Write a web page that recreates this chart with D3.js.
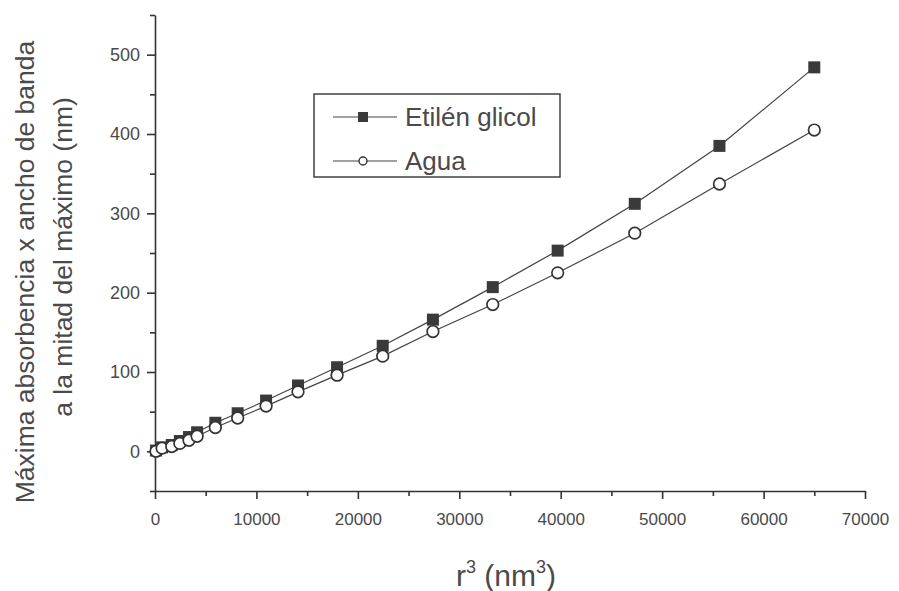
<!DOCTYPE html>
<html lang="es">
<head>
<meta charset="utf-8">
<script src="https://d3js.org/d3.v7.min.js"></script>
<style>
  body { margin: 0; background: #fff; }
  svg text { font-family: "Liberation Sans", Arial, sans-serif; fill: #4a4a4a; }
</style>
</head>
<body>
<div id="chart"></div>
<script>
// r^3 values (nm^3)
const r3 = [100, 700, 1650, 2450, 3350, 4150, 5950, 8150, 10950, 14100, 17950, 22450, 27400, 33300, 39700, 47300, 55650, 65000];
const etilenGlicol = [1, 5, 8, 13, 18, 24, 36, 48, 64, 83, 106, 133, 166, 207, 253, 312, 385, 484];
const agua = [0, 4, 6, 10, 14, 19, 30, 42, 57, 75, 96, 120, 151, 185, 225, 275, 337, 405];
const xTicks = [0, 10000, 20000, 30000, 40000, 50000, 60000, 70000];
const yTicks = [0, 100, 200, 300, 400, 500];
const seriesNames = ["Etilén glicol", "Agua"];

const W = 899, H = 591;
const svg = d3.select("#chart").append("svg")
  .attr("width", W).attr("height", H);

// scales
const x = d3.scaleLinear().domain([0, 70000]).range([155, 865]);
const y = d3.scaleLinear().domain([-50, 550]).range([491, 15]);
const ink = "#333";

// x axis: minor ticks then major with labels
svg.append("g")
  .attr("transform", "translate(0," + y(-50) + ")")
  .call(d3.axisBottom(x).tickValues(d3.range(5000, 70000, 10000)).tickSize(5).tickFormat(""))
  .call(g => g.select(".domain").remove());
const xa = svg.append("g")
  .attr("transform", "translate(0," + y(-50) + ")")
  .call(d3.axisBottom(x).tickValues(xTicks).tickSize(8).tickSizeOuter(0).tickPadding(14).tickFormat(d3.format("d")));
xa.selectAll("text").style("font-size", "17px");

// y axis
svg.append("g")
  .attr("transform", "translate(" + x(0) + ",0)")
  .call(d3.axisLeft(y).tickValues([-50, 50, 150, 250, 350, 450, 550]).tickSize(5).tickFormat(""))
  .call(g => g.select(".domain").remove());
const ya = svg.append("g")
  .attr("transform", "translate(" + x(0) + ",0)")
  .call(d3.axisLeft(y).tickValues(yTicks).tickSize(8).tickSizeOuter(0).tickPadding(7));
ya.selectAll("text").style("font-size", "18px");

svg.selectAll(".domain, .tick line").attr("stroke", ink).attr("stroke-width", 1.6);

// data lines
const pts = s => r3.map((v, i) => [x(v), y(s[i])]);
const line = d3.line();
[etilenGlicol, agua].forEach(s => {
  svg.append("path").attr("d", line(pts(s)))
    .attr("fill", "none").attr("stroke", "#444").attr("stroke-width", 1.2);
});

// markers: squares under circles
svg.append("g").selectAll("rect").data(pts(etilenGlicol)).join("rect")
  .attr("x", d => d[0] - 6).attr("y", d => d[1] - 6)
  .attr("width", 12).attr("height", 12).attr("fill", "#3a3a3a");
svg.append("g").selectAll("circle").data(pts(agua)).join("circle")
  .attr("cx", d => d[0]).attr("cy", d => d[1]).attr("r", 5.8)
  .attr("fill", "#fff").attr("stroke", "#333").attr("stroke-width", 1.7);

// legend
const lg = svg.append("g");
lg.append("rect").attr("x", 314).attr("y", 94).attr("width", 246).attr("height", 83)
  .attr("fill", "#fff").attr("stroke", ink).attr("stroke-width", 1.4);
[117, 161].forEach((ly, i) => {
  lg.append("line").attr("x1", 333).attr("x2", 397).attr("y1", ly).attr("y2", ly)
    .attr("stroke", "#444").attr("stroke-width", 1.2);
  if (i === 0) {
    lg.append("rect").attr("x", 358).attr("y", ly - 5).attr("width", 10).attr("height", 10).attr("fill", "#3a3a3a");
  } else {
    lg.append("circle").attr("cx", 363).attr("cy", ly).attr("r", 4)
      .attr("fill", "#fff").attr("stroke", "#333").attr("stroke-width", 1.4);
  }
  lg.append("text").attr("x", 405).attr("y", ly + 9).style("font-size", "26px").text(seriesNames[i]);
});

// axis titles
svg.append("text").attr("transform", "translate(34,272) rotate(-90)")
  .attr("text-anchor", "middle").style("font-size", "26.5px")
  .text("Máxima absorbencia x ancho de banda");
svg.append("text").attr("transform", "translate(72,257) rotate(-90)")
  .attr("text-anchor", "middle").style("font-size", "26.5px")
  .text("a la mitad del máximo (nm)");

const xt = svg.append("text").attr("x", 506).attr("y", 586)
  .attr("text-anchor", "middle").style("font-size", "30px");
xt.append("tspan").text("r");
xt.append("tspan").attr("dy", -13).style("font-size", "18px").text("3");
xt.append("tspan").attr("dy", 13).text(" (nm");
xt.append("tspan").attr("dy", -13).style("font-size", "18px").text("3");
xt.append("tspan").attr("dy", 13).text(")");
</script>
</body>
</html>
